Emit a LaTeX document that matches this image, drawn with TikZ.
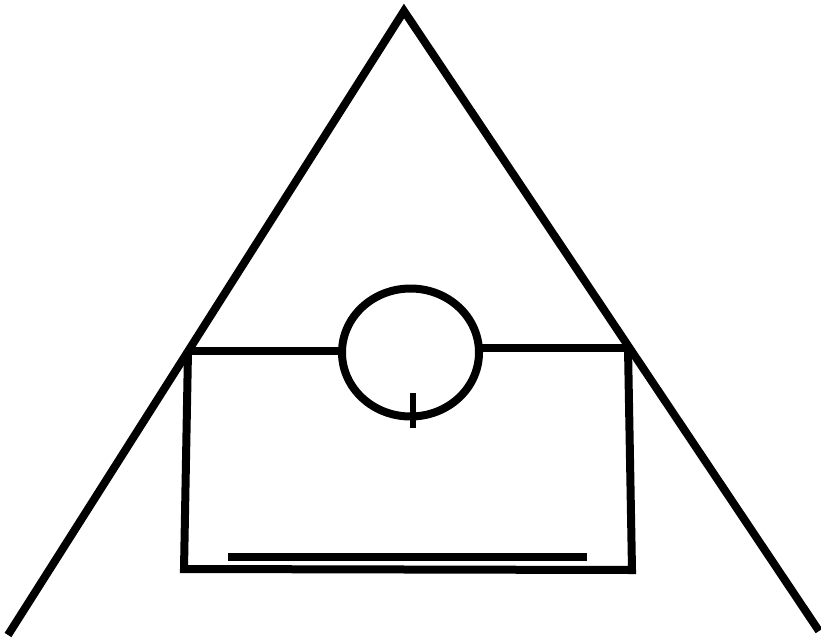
\documentclass[tikz,border=0pt]{standalone}
\begin{document}
\begin{tikzpicture}[x=1pt,y=-1pt,
  stroke/.style={draw=black,line width=8pt,line cap=butt,line join=miter}]
\useasboundingbox (0,0) rectangle (821,637);
\coordinate (apex) at (404,11);
\coordinate (bl) at (8,635);
\coordinate (br) at (819,631);
\coordinate (tl) at (188,351);
\coordinate (tr) at (628,348);
\coordinate (lb) at (184,569);
\coordinate (rb) at (632,570);
\coordinate (cc) at (410.5,352.5);
\draw[stroke] (bl) -- (apex) -- (br);
\draw[stroke] (tl) -- (342,351);
\draw[stroke] (479,348) -- (tr);
\draw[stroke] (tl) -- (lb) -- (rb) -- (tr);
\draw[stroke] (cc) ellipse [x radius=68.5, y radius=64];
\draw[stroke,line width=6pt] (413,393) -- (413,428);
\draw[stroke,line width=8pt] (228,557) -- (587,557);
\end{tikzpicture}
\end{document}
